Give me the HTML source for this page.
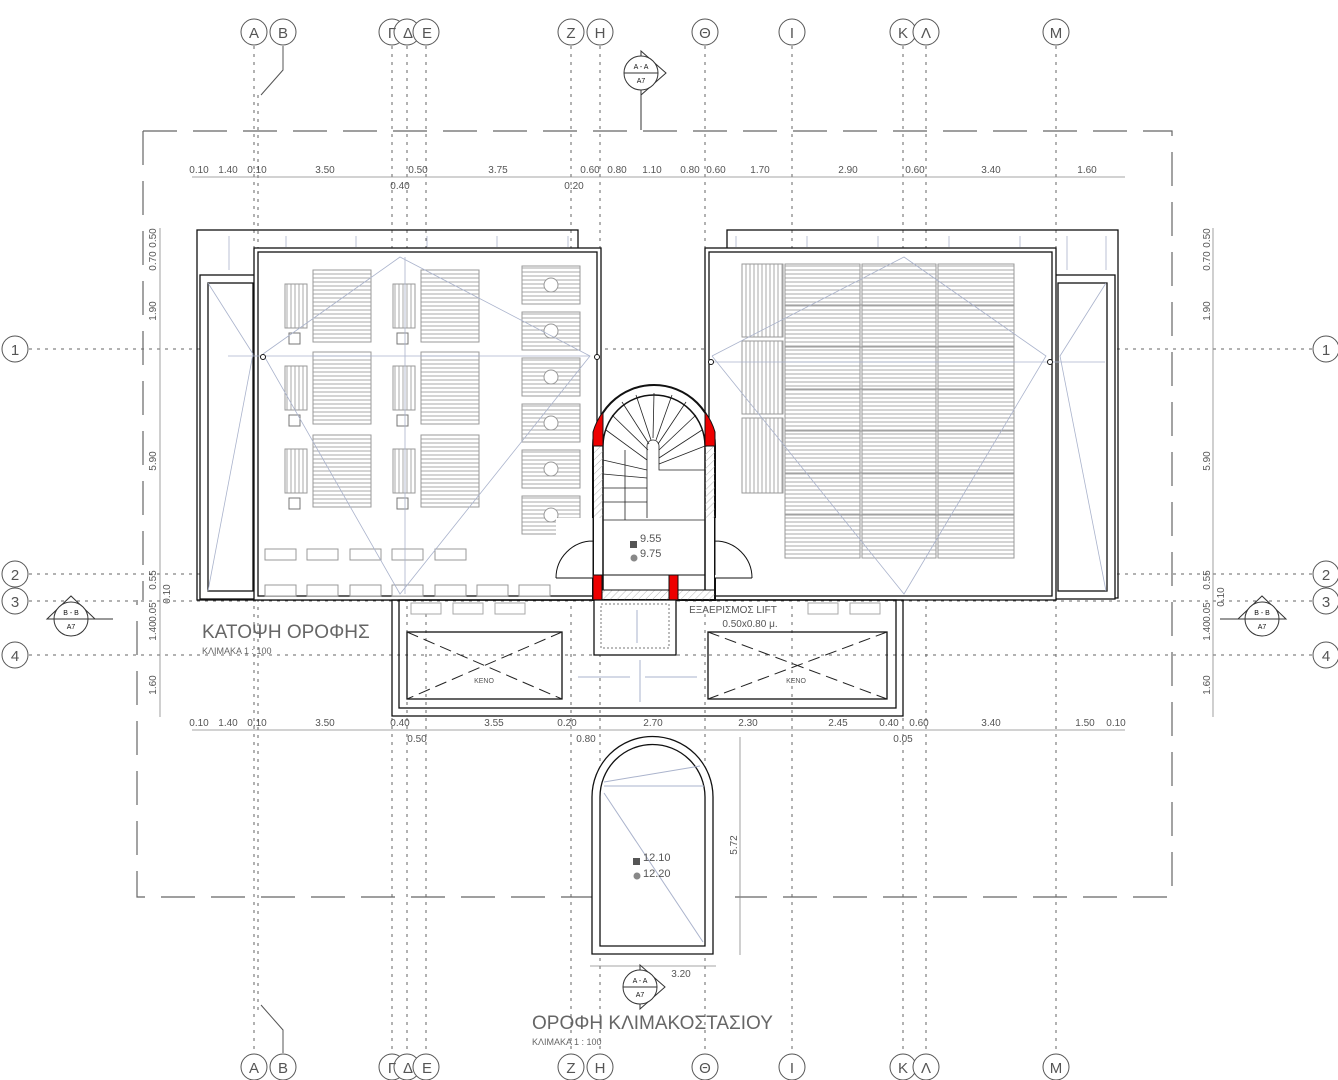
<!DOCTYPE html>
<html><head><meta charset="utf-8"><style>
html,body{margin:0;padding:0;background:#fff}
svg{display:block}
text{font-family:"Liberation Sans","DejaVu Sans",sans-serif;fill:#555}
</style></head><body>
<svg width="1338" height="1080" viewBox="0 0 1338 1080" xmlns="http://www.w3.org/2000/svg">
<defs>
<pattern id="hs" width="6" height="4" patternUnits="userSpaceOnUse"><rect width="6" height="4" fill="#fff"/><line x1="0" y1="2" x2="6" y2="2" stroke="#aaa" stroke-width="1"/></pattern>
<pattern id="vs" width="4" height="6" patternUnits="userSpaceOnUse"><rect width="4" height="6" fill="#fff"/><line x1="2" y1="0" x2="2" y2="6" stroke="#aaa" stroke-width="1"/></pattern>
<pattern id="hatch" width="5" height="5" patternUnits="userSpaceOnUse" patternTransform="rotate(45)"><line x1="0" y1="0" x2="0" y2="5" stroke="#999" stroke-width="0.7"/></pattern>
<g id="tile"><rect x="0" y="0" width="58" height="38" fill="url(#hs)" stroke="#999"/><circle cx="29" cy="19" r="7" fill="#fff" stroke="#999"/></g>
<g id="bed"><rect x="0" y="0" width="22" height="44" fill="url(#vs)" stroke="#999"/><rect x="28" y="-14" width="58" height="72" fill="url(#hs)" stroke="#999"/><rect x="4" y="49" width="11" height="11" fill="#fff" stroke="#777"/></g>
</defs>

<!-- grid lines vertical -->
<g stroke="#666" stroke-width="1" stroke-dasharray="3,5" fill="none">
<line x1="254" y1="46" x2="254" y2="1053"/><line x1="258" y1="95" x2="258" y2="1010"/>
<line x1="392" y1="46" x2="392" y2="1053"/><line x1="407" y1="46" x2="407" y2="1053"/><line x1="426" y1="46" x2="426" y2="1053"/>
<line x1="571" y1="46" x2="571" y2="1053"/><line x1="600" y1="46" x2="600" y2="1053"/>
<line x1="705" y1="46" x2="705" y2="1053"/><line x1="792" y1="46" x2="792" y2="1053"/>
<line x1="903" y1="46" x2="903" y2="1053"/><line x1="926" y1="46" x2="926" y2="1053"/><line x1="1056" y1="46" x2="1056" y2="1053"/>
<line x1="29" y1="349" x2="1312" y2="349"/><line x1="29" y1="574" x2="1312" y2="574"/>
<line x1="29" y1="601" x2="1312" y2="601"/><line x1="29" y1="655" x2="1312" y2="655"/>
</g>
<g stroke="#555" fill="none"><polyline points="283,46 283,70 261,95"/><polyline points="283,1053 283,1030 261,1005"/></g>

<!-- grid bubbles -->
<g stroke="#555" fill="#fff" stroke-width="1">
<circle cx="254" cy="32" r="13"/><circle cx="283" cy="32" r="13"/><circle cx="392" cy="32" r="13"/><circle cx="407" cy="32" r="13"/><circle cx="426" cy="32" r="13"/><circle cx="571" cy="32" r="13"/><circle cx="600" cy="32" r="13"/><circle cx="705" cy="32" r="13"/><circle cx="792" cy="32" r="13"/><circle cx="903" cy="32" r="13"/><circle cx="926" cy="32" r="13"/><circle cx="1056" cy="32" r="13"/>
<circle cx="254" cy="1067" r="13"/><circle cx="283" cy="1067" r="13"/><circle cx="392" cy="1067" r="13"/><circle cx="407" cy="1067" r="13"/><circle cx="426" cy="1067" r="13"/><circle cx="571" cy="1067" r="13"/><circle cx="600" cy="1067" r="13"/><circle cx="705" cy="1067" r="13"/><circle cx="792" cy="1067" r="13"/><circle cx="903" cy="1067" r="13"/><circle cx="926" cy="1067" r="13"/><circle cx="1056" cy="1067" r="13"/>
<circle cx="15" cy="349" r="13"/><circle cx="15" cy="574" r="13"/><circle cx="15" cy="601" r="13"/><circle cx="15" cy="655" r="13"/>
<circle cx="1326" cy="349" r="13"/><circle cx="1326" cy="574" r="13"/><circle cx="1326" cy="601" r="13"/><circle cx="1326" cy="655" r="13"/>
</g>
<g font-size="15" text-anchor="middle">
<text x="254" y="38">A</text><text x="283" y="38">B</text><text x="392" y="38">Γ</text><text x="408" y="38">Δ</text><text x="427" y="38">E</text><text x="571" y="38">Z</text><text x="600" y="38">H</text><text x="705" y="38">Θ</text><text x="792" y="38">I</text><text x="903" y="38">K</text><text x="926" y="38">Λ</text><text x="1056" y="38">M</text>
<text x="254" y="1073">A</text><text x="283" y="1073">B</text><text x="392" y="1073">Γ</text><text x="408" y="1073">Δ</text><text x="427" y="1073">E</text><text x="571" y="1073">Z</text><text x="600" y="1073">H</text><text x="705" y="1073">Θ</text><text x="792" y="1073">I</text><text x="903" y="1073">K</text><text x="926" y="1073">Λ</text><text x="1056" y="1073">M</text>
<text x="15" y="355">1</text><text x="15" y="580">2</text><text x="15" y="607">3</text><text x="15" y="661">4</text>
<text x="1326" y="355">1</text><text x="1326" y="580">2</text><text x="1326" y="607">3</text><text x="1326" y="661">4</text>
</g>

<!-- dashed outline -->
<g stroke="#666" stroke-width="1.2" fill="none" stroke-dasharray="34,16">
<polyline points="143,131 1172,131 1172,897 735,897"/>
<polyline points="595,897 137,897 137,600"/>
<line x1="143" y1="131" x2="143" y2="600"/>
</g>

<!-- dimension lines -->
<g stroke="#888" stroke-width="0.8" fill="none">
<line x1="192" y1="177" x2="1125" y2="177"/>
<line x1="192" y1="730" x2="1125" y2="730"/>
<line x1="160" y1="228" x2="160" y2="717"/>
<line x1="1213" y1="228" x2="1213" y2="717"/>
<line x1="740" y1="737" x2="740" y2="955"/>
<line x1="590" y1="966" x2="716" y2="966"/>
</g>
<g font-size="10" text-anchor="middle">
<text x="199" y="173">0.10</text><text x="228" y="173">1.40</text><text x="257" y="173">0.10</text><text x="325" y="173">3.50</text><text x="418" y="173">0.50</text><text x="498" y="173">3.75</text><text x="590" y="173">0.60</text><text x="617" y="173">0.80</text><text x="652" y="173">1.10</text><text x="690" y="173">0.80</text><text x="716" y="173">0.60</text><text x="760" y="173">1.70</text><text x="848" y="173">2.90</text><text x="915" y="173">0.60</text><text x="991" y="173">3.40</text><text x="1087" y="173">1.60</text>
<text x="400" y="189">0.40</text><text x="574" y="189">0.20</text>
<text x="199" y="726">0.10</text><text x="228" y="726">1.40</text><text x="257" y="726">0.10</text><text x="325" y="726">3.50</text><text x="400" y="726">0.40</text><text x="494" y="726">3.55</text><text x="567" y="726">0.20</text><text x="653" y="726">2.70</text><text x="748" y="726">2.30</text><text x="838" y="726">2.45</text><text x="889" y="726">0.40</text><text x="919" y="726">0.60</text><text x="991" y="726">3.40</text><text x="1085" y="726">1.50</text><text x="1116" y="726">0.10</text>
<text x="417" y="742">0.50</text><text x="586" y="742">0.80</text><text x="903" y="742">0.05</text>
<text x="500" y="309">1.11</text><text x="681" y="977">3.20</text>
</g>
<g font-size="10" text-anchor="middle">
<text transform="translate(156,238) rotate(-90)">0.50</text><text transform="translate(156,261) rotate(-90)">0.70</text><text transform="translate(156,311) rotate(-90)">1.90</text><text transform="translate(156,461) rotate(-90)">5.90</text><text transform="translate(156,580) rotate(-90)">0.55</text><text transform="translate(170,594) rotate(-90)">0.10</text><text transform="translate(156,612) rotate(-90)">0.05</text><text transform="translate(156,631) rotate(-90)">1.40</text><text transform="translate(156,685) rotate(-90)">1.60</text>
<text transform="translate(1210,238) rotate(-90)">0.50</text><text transform="translate(1210,261) rotate(-90)">0.70</text><text transform="translate(1210,311) rotate(-90)">1.90</text><text transform="translate(1210,461) rotate(-90)">5.90</text><text transform="translate(1210,580) rotate(-90)">0.55</text><text transform="translate(1224,597) rotate(-90)">0.10</text><text transform="translate(1210,612) rotate(-90)">0.05</text><text transform="translate(1210,631) rotate(-90)">1.40</text><text transform="translate(1210,685) rotate(-90)">1.60</text>
<text transform="translate(545,490) rotate(-90)">2.35</text><text transform="translate(545,552) rotate(-90)">1.00</text><text transform="translate(545,587) rotate(-90)">0.70</text>
<text transform="translate(767,490) rotate(-90)">2.35</text><text transform="translate(767,552) rotate(-90)">1.00</text><text transform="translate(767,587) rotate(-90)">0.70</text>
<text transform="translate(737,845) rotate(-90)">5.72</text>
</g>

<!-- LEFT BLOCK -->
<g fill="none" stroke="#111" stroke-width="1.3">
<rect x="197" y="230" width="381" height="370"/>
<rect x="200" y="275" width="55" height="324" fill="#fff"/>
<rect x="208" y="283" width="45" height="308"/>
<rect x="254" y="248" width="347" height="352" fill="#fff"/>
<rect x="258" y="252" width="339" height="344"/>
</g>
<use href="#bed" x="285" y="284"/><use href="#bed" x="285" y="366"/><use href="#bed" x="285" y="449"/>
<use href="#bed" x="393" y="284"/><use href="#bed" x="393" y="366"/><use href="#bed" x="393" y="449"/>
<use href="#tile" x="522" y="266"/><use href="#tile" x="522" y="312"/><use href="#tile" x="522" y="358"/><use href="#tile" x="522" y="404"/><use href="#tile" x="522" y="450"/><use href="#tile" x="522" y="496"/>
<g fill="#fff" stroke="#999">
<rect x="265" y="549" width="31" height="11"/><rect x="307" y="549" width="31" height="11"/><rect x="350" y="549" width="31" height="11"/><rect x="392" y="549" width="31" height="11"/><rect x="435" y="549" width="31" height="11"/>
<rect x="265" y="585" width="31" height="11"/><rect x="307" y="585" width="31" height="11"/><rect x="350" y="585" width="31" height="11"/><rect x="392" y="585" width="31" height="11"/><rect x="435" y="585" width="31" height="11"/><rect x="477" y="585" width="31" height="11"/><rect x="519" y="585" width="31" height="11"/>
</g>
<g stroke="#aab3cc" stroke-width="0.8" fill="none">
<polyline points="208,283 253,354 208,591"/>
<polyline points="263,354 400,257 590,356 400,594 263,354"/>
<line x1="228" y1="356" x2="590" y2="356"/>
<line x1="405" y1="257" x2="405" y2="594"/>
<line x1="229" y1="236" x2="229" y2="270"/><line x1="286" y1="236" x2="286" y2="247"/><line x1="356" y1="236" x2="356" y2="247"/><line x1="427" y1="236" x2="427" y2="247"/><line x1="497" y1="236" x2="497" y2="247"/><line x1="568" y1="236" x2="568" y2="247"/>
</g>
<circle cx="263" cy="357" r="2.5" fill="#fff" stroke="#111"/><circle cx="597" cy="357" r="2.5" fill="#fff" stroke="#111"/>

<!-- RIGHT BLOCK -->
<g fill="none" stroke="#111" stroke-width="1.3">
<rect x="727" y="230" width="391" height="368"/>
<rect x="1055" y="275" width="60" height="324" fill="#fff"/>
<rect x="1058" y="283" width="49" height="308"/>
<rect x="705" y="248" width="351" height="352" fill="#fff"/>
<rect x="709" y="252" width="343" height="344"/>
</g>
<g stroke="#999" stroke-width="1">
<rect x="742" y="264" width="41" height="73" fill="url(#vs)"/><rect x="742" y="341" width="41" height="73" fill="url(#vs)"/><rect x="742" y="418" width="41" height="75" fill="url(#vs)"/>
<rect x="785" y="264" width="75" height="294" fill="url(#hs)"/><rect x="862" y="264" width="74" height="294" fill="url(#hs)"/><rect x="938" y="264" width="76" height="294" fill="url(#hs)"/>
<line x1="785" y1="305" x2="1014" y2="305"/><line x1="785" y1="347" x2="1014" y2="347"/><line x1="785" y1="389" x2="1014" y2="389"/><line x1="785" y1="431" x2="1014" y2="431"/><line x1="785" y1="473" x2="1014" y2="473"/><line x1="785" y1="515" x2="1014" y2="515"/>
</g>
<g stroke="#aab3cc" stroke-width="0.8" fill="none">
<polyline points="1106,283 1060,356 1106,591"/>
<polyline points="712,356 904,257 1046,356 904,594 712,356"/>
<line x1="712" y1="362" x2="1105" y2="362"/>
<line x1="736" y1="236" x2="736" y2="247"/><line x1="807" y1="236" x2="807" y2="247"/><line x1="878" y1="236" x2="878" y2="247"/><line x1="949" y1="236" x2="949" y2="247"/><line x1="1020" y1="236" x2="1020" y2="247"/><line x1="1067" y1="236" x2="1067" y2="270"/><line x1="1106" y1="236" x2="1106" y2="270"/>
</g>
<circle cx="711" cy="362" r="2.5" fill="#fff" stroke="#111"/><circle cx="1050" cy="362" r="2.5" fill="#fff" stroke="#111"/>

<!-- LOWER SECTION -->
<g fill="none" stroke="#111" stroke-width="1.3">
<rect x="392" y="600" width="511" height="116"/>
<rect x="399" y="600" width="497" height="108"/>
<rect x="407" y="632" width="155" height="67"/>
<rect x="708" y="632" width="179" height="67"/>
</g>
<g stroke="#222" stroke-dasharray="12,6" fill="none">
<line x1="407" y1="632" x2="562" y2="699"/><line x1="562" y1="632" x2="407" y2="699"/>
<line x1="708" y1="632" x2="887" y2="699"/><line x1="887" y1="632" x2="708" y2="699"/>
</g>
<g fill="#fff" stroke="#aaa"><rect x="411" y="603" width="30" height="11"/><rect x="453" y="603" width="30" height="11"/><rect x="495" y="603" width="30" height="11"/><rect x="808" y="603" width="30" height="11"/><rect x="850" y="603" width="30" height="11"/></g>
<g font-size="7" text-anchor="middle"><text x="484" y="683">KENO</text><text x="796" y="683">KENO</text></g>
<g stroke="#aab3cc" fill="none"><line x1="578" y1="677" x2="630" y2="677"/><line x1="645" y1="677" x2="697" y2="677"/><line x1="640" y1="660" x2="640" y2="702"/></g>

<!-- STAIR -->
<path d="M593,600 L593,446 A61,61 0 0 1 715,446 L715,600 Z" fill="#fff" stroke="#111" stroke-width="2"/>
<path d="M603,590 L603,446 A51,51 0 0 1 705,446 L705,590" fill="none" stroke="#111" stroke-width="1.5"/>
<rect x="594" y="446" width="9" height="72" fill="url(#hatch)"/><rect x="705" y="446" width="10" height="72" fill="url(#hatch)"/>
<path d="M593,446 L593,432 A61,61 0 0 1 603,412 L603,446 Z" fill="#e00" stroke="#111"/>
<path d="M715,446 L715,432 A61,61 0 0 0 705,412 L705,446 Z" fill="#e00" stroke="#111"/>
<rect x="556" y="518" width="37" height="60" fill="#fff" stroke="none"/><rect x="715" y="518" width="37" height="60" fill="#fff" stroke="none"/>
<g stroke="#111" fill="none">
<path d="M593,518 L593,575 M556,578 A37,37 0 0 1 593,541"/>
<path d="M715,518 L715,575 M752,578 A37,37 0 0 0 715,541"/>
<line x1="556" y1="578" x2="593" y2="578"/><line x1="715" y1="578" x2="752" y2="578"/>
</g>
<g stroke="#222" stroke-width="0.8" fill="none">
<path d="M647,518 L647,446 A6,6 0 0 1 659,446 L659,470 L705,470"/>
<line x1="603" y1="520" x2="705" y2="520"/>
<line x1="603" y1="460" x2="647" y2="470"/><line x1="603" y1="474" x2="647" y2="478"/><line x1="603" y1="488" x2="647" y2="488"/><line x1="603" y1="502" x2="647" y2="502"/>
<line x1="606" y1="430" x2="647" y2="460"/><line x1="612" y1="415" x2="648" y2="450"/><line x1="622" y1="402" x2="649" y2="444"/><line x1="636" y1="395" x2="651" y2="440"/><line x1="654" y1="393" x2="653" y2="438"/><line x1="672" y1="395" x2="656" y2="440"/><line x1="686" y1="402" x2="658" y2="444"/><line x1="696" y1="415" x2="659" y2="450"/><line x1="702" y1="430" x2="659" y2="458"/><line x1="705" y1="446" x2="659" y2="464"/>
<line x1="625" y1="450" x2="625" y2="520"/>
</g>
<rect x="594" y="590" width="121" height="10" fill="url(#hatch)" stroke="#111"/>
<rect x="593" y="575" width="9" height="25" fill="#e00" stroke="#111"/>
<rect x="669" y="575" width="9" height="25" fill="#e00" stroke="#111"/>
<line x1="603" y1="575" x2="705" y2="575" stroke="#111"/>
<rect x="594" y="600" width="82" height="55" fill="#fff" stroke="#111" stroke-width="1.3"/>
<rect x="601" y="604" width="68" height="44" fill="none" stroke="#777" stroke-dasharray="2,2"/>
<line x1="637" y1="610" x2="637" y2="643" stroke="#aab3cc"/>
<rect x="630" y="541" width="7" height="7" fill="#555"/><circle cx="634" cy="558" r="3.5" fill="#888"/>
<g font-size="11"><text x="640" y="542">9.55</text><text x="640" y="557">9.75</text></g>
<g font-size="10" text-anchor="middle"><text x="733" y="613">ΕΞΑΕΡΙΣΜΟΣ LIFT</text><text x="750" y="627">0.50x0.80 μ.</text></g>

<!-- ROOF OF STAIRCASE -->
<path d="M592,954 L592,797 A60.5,60.5 0 0 1 713,797 L713,954 Z" fill="#fff" stroke="#111" stroke-width="1.3"/>
<path d="M600,946 L600,797 A52.5,52.5 0 0 1 705,797 L705,946 Z" fill="none" stroke="#111" stroke-width="1.3"/>
<g stroke="#aab3cc" fill="none"><line x1="604" y1="782" x2="700" y2="766"/><line x1="604" y1="786" x2="704" y2="786"/><line x1="604" y1="793" x2="703" y2="942"/></g>
<rect x="633" y="858" width="7" height="7" fill="#555"/><circle cx="637" cy="876" r="3.5" fill="#888"/>
<g font-size="11"><text x="643" y="861">12.10</text><text x="643" y="877">12.20</text></g>

<!-- section markers -->
<g stroke="#333" fill="#fff" stroke-width="1">
<polygon points="641,51 666,73 641,95"/><circle cx="641" cy="73" r="17"/><line x1="624" y1="73" x2="658" y2="73"/><line x1="641" y1="95" x2="641" y2="130"/>
<polygon points="640,965 665,987 640,1009"/><circle cx="640" cy="987" r="17"/><line x1="623" y1="987" x2="657" y2="987"/>
<polygon points="47,619 71,596 95,619" /><circle cx="71" cy="619" r="17"/><line x1="47" y1="619" x2="113" y2="619"/>
<polygon points="1238,619 1262,596 1286,619"/><circle cx="1262" cy="619" r="17"/><line x1="1220" y1="619" x2="1286" y2="619"/>
</g>
<g font-size="7" text-anchor="middle" style="fill:#111">
<text x="641" y="69" style="fill:#111">A - A</text><text x="641" y="83" style="fill:#111">A7</text>
<text x="640" y="983" style="fill:#111">A - A</text><text x="640" y="997" style="fill:#111">A7</text>
<text x="71" y="615" style="fill:#111">B - B</text><text x="71" y="629" style="fill:#111">A7</text>
<text x="1262" y="615" style="fill:#111">B - B</text><text x="1262" y="629" style="fill:#111">A7</text>
</g>

<!-- titles -->
<text x="202" y="638" font-size="19" style="fill:#666">ΚΑΤΟΨΗ ΟΡΟΦΗΣ</text>
<text x="202" y="654" font-size="9" style="fill:#666">ΚΛΙΜΑΚΑ 1 : 100</text>
<text x="532" y="1029" font-size="19" style="fill:#666">ΟΡΟΦΗ ΚΛΙΜΑΚΟΣΤΑΣΙΟΥ</text>
<text x="532" y="1045" font-size="9" style="fill:#666">ΚΛΙΜΑΚΑ 1 : 100</text>
</svg>
</body></html>
